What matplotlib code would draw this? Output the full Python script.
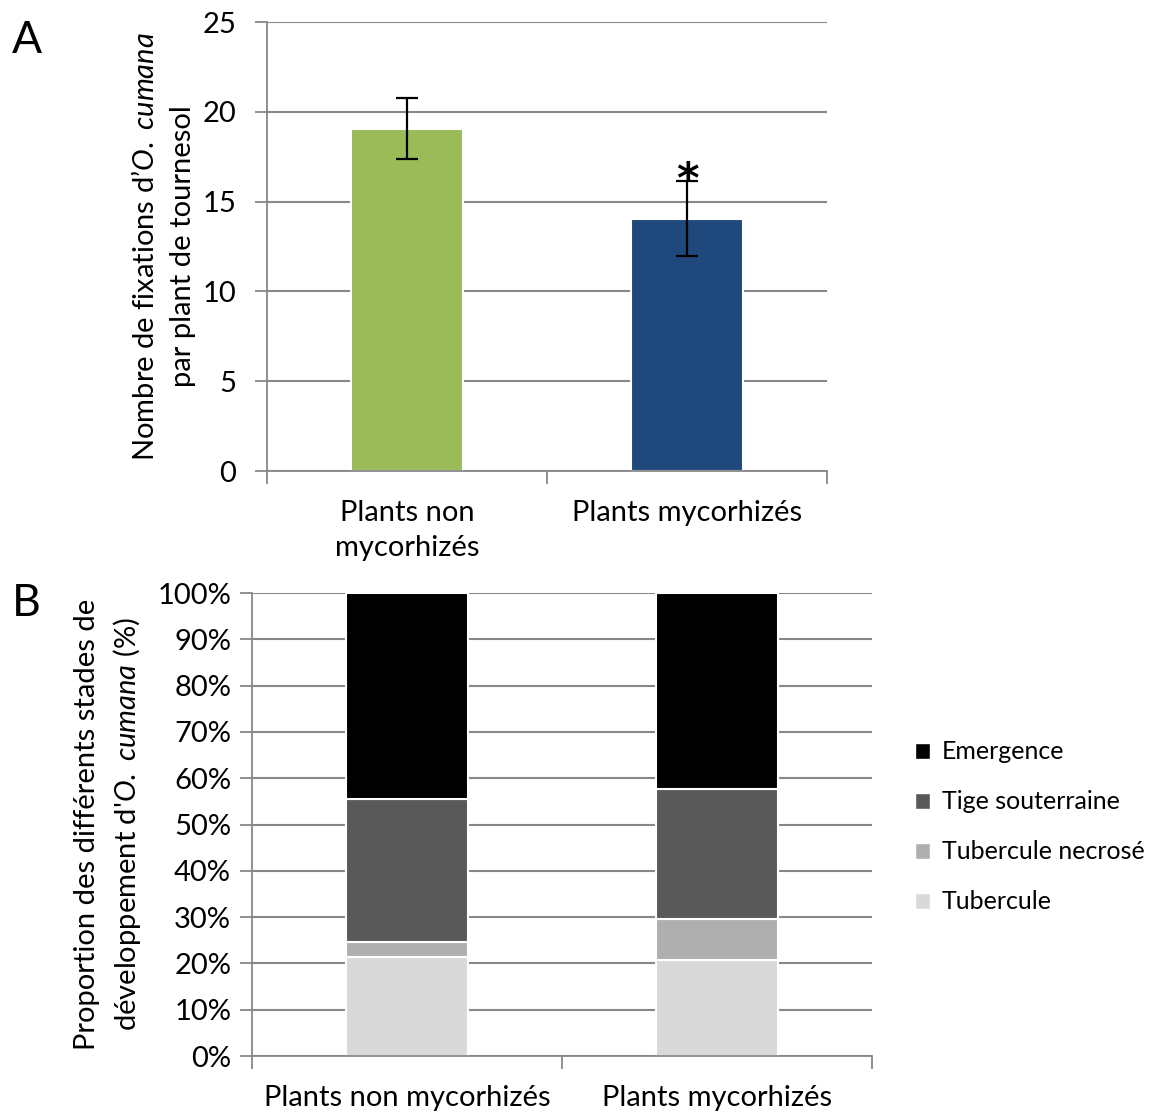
import matplotlib
matplotlib.use("Agg")
import matplotlib.pyplot as plt
from matplotlib.patches import Patch
import numpy as np

plt.rcParams['font.family'] = ['Lato', 'DejaVu Sans']
plt.rcParams['font.size'] = 21
plt.rcParams['mathtext.fontset'] = 'custom'
plt.rcParams['mathtext.rm'] = 'Lato'
plt.rcParams['mathtext.it'] = 'Lato:italic'

# panel A: number of attachments per sunflower plant
groups_a = ["Plants non\nmycorhizés", "Plants mycorhizés"]
fixations = [19.05, 14.05]
fixations_err = [1.7, 2.1]
colors_a = ["#9BBB59", "#1F497D"]

# panel B: proportion of developmental stages (%)
groups_b = ["Plants non mycorhizés", "Plants mycorhizés"]
stages = ["Tubercule", "Tubercule necrosé", "Tige souterraine", "Emergence"]
tubercule = [21.4, 20.7]
tubercule_necrose = [3.2, 8.8]
tige = [30.9, 28.1]
emergence = [44.5, 42.4]
colors_b = ["#D9D9D9", "#AFAFAF", "#595959", "#000000"]

grid_col = "#888888"


def style_axes(ax):
    for s in ["top", "right"]:
        ax.spines[s].set_visible(False)
    for s in ["left", "bottom"]:
        ax.spines[s].set_color(grid_col)
        ax.spines[s].set_linewidth(1.3)
    ax.yaxis.grid(True, color=grid_col, linewidth=1.5)
    ax.set_axisbelow(True)
    ax.tick_params(axis='y', length=9, width=1.3, color=grid_col)
    ax.tick_params(axis='x', which='major', length=0)
    ax.set_xticks([-0.5, 0.5, 1.5], minor=True)
    ax.tick_params(axis='x', which='minor', length=9, width=1.3, color=grid_col)
    ax.set_xlim(-0.5, 1.5)


fig = plt.figure(figsize=(11.72, 11.13), dpi=100)

# ---- A ----
ax1 = fig.add_axes([0.2278, 0.5768, 0.478, 0.4034])
x = np.arange(len(groups_a))
ax1.bar(x, fixations, width=0.4, color=colors_a, edgecolor="white", linewidth=1.5, zorder=2)
ax1.errorbar(x, fixations, yerr=fixations_err, fmt="none", ecolor="black",
             elinewidth=1.6, capsize=8, capthick=1.6, zorder=3)
ax1.text(x[1], fixations[1] + fixations_err[1] - 1.15, "*", ha="center", va="bottom",
         fontsize=31, fontweight="bold", family="DejaVu Sans")
ax1.set_ylim(0, 25)
ax1.set_yticks(range(0, 26, 5))
ax1.set_xticks(x)
ax1.set_xticklabels(groups_a, linespacing=1.4)
style_axes(ax1)
ax1.tick_params(axis='y', pad=13)
ax1.tick_params(axis='x', which='major', pad=21)
ax1.set_ylabel("Nombre de fixations d\u2019$O.\\ cumana$\npar plant de tournesol",
               linespacing=1.55)
ax1.yaxis.set_label_coords(-0.126, 0.5)

# ---- B ----
ax2 = fig.add_axes([0.215, 0.0512, 0.529, 0.416])
xb = np.arange(len(groups_b))
bottom = np.zeros(len(groups_b))
handles = []
for vals, name, col in zip([tubercule, tubercule_necrose, tige, emergence], stages, colors_b):
    ax2.bar(xb, vals, bottom=bottom, width=0.395, color=col, edgecolor="white",
            linewidth=1.5, zorder=2)
    bottom += np.array(vals)
    handles.append(Patch(facecolor=col, edgecolor="white", label=name))
ax2.set_ylim(0, 100)
ax2.set_yticks(range(0, 101, 10))
ax2.set_yticklabels([f"{v}%" for v in range(0, 101, 10)])
ax2.set_xticks(xb)
ax2.set_xticklabels(groups_b)
style_axes(ax2)
ax2.tick_params(axis='y', pad=6)
ax2.tick_params(axis='x', which='major', pad=21)
ax2.set_ylabel("Proportion des différents stades de\ndéveloppement d'$O.\\ cumana$ (%)",
               linespacing=1.45)
ax2.yaxis.set_label_coords(-0.175, 0.5)

fig.legend(handles=handles[::-1], loc="center left", bbox_to_anchor=(0.781, 0.257),
           frameon=False, borderpad=0, borderaxespad=0,
           handlelength=0.6, handleheight=0.6, handletextpad=0.45,
           labelspacing=1.08, fontsize=18)

fig.text(0.010, 0.982, "A", fontsize=32, va="top", ha="left")
fig.text(0.010, 0.476, "B", fontsize=32, va="top", ha="left")

fig.savefig("out.png", dpi=100)
